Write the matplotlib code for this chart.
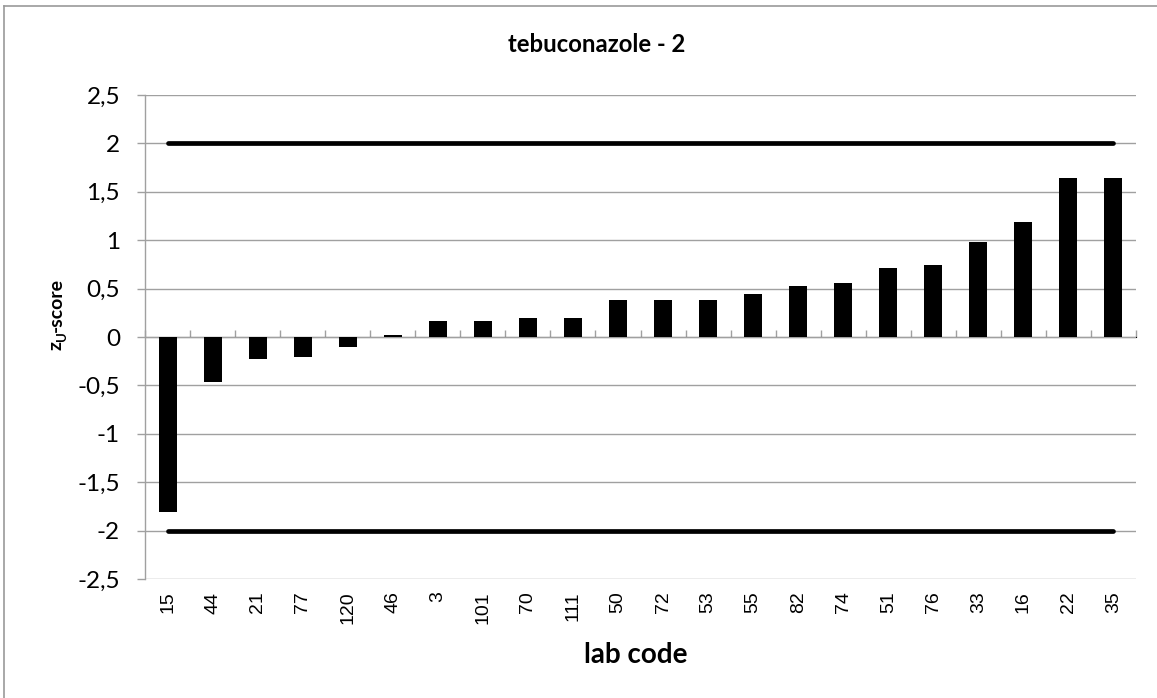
import matplotlib
matplotlib.use("Agg")
import matplotlib.pyplot as plt
import matplotlib.transforms as mtransforms
import numpy as np

# ---- data ----
lab_codes = ["15", "44", "21", "77", "120", "46", "3", "101", "70", "111", "50",
             "72", "53", "55", "82", "74", "51", "76", "33", "16", "22", "35"]
z_scores = [-1.81, -0.47, -0.23, -0.21, -0.10, 0.02, 0.17, 0.17, 0.20, 0.20, 0.38,
            0.38, 0.38, 0.44, 0.53, 0.56, 0.71, 0.74, 0.98, 1.19, 1.64, 1.64]
upper_limit = 2
lower_limit = -2
y_ticks = [-2.5, -2, -1.5, -1, -0.5, 0, 0.5, 1, 1.5, 2, 2.5]
y_tick_labels = ["-2,5", "-2", "-1,5", "-1", "-0,5", "0", "0,5", "1", "1,5", "2", "2,5"]
title = "tebuconazole - 2"
x_label = "lab code"
y_label_parts = ["z", "U", "-score"]

W, H = 1157, 698
fig = plt.figure(figsize=(W / 100, H / 100), dpi=100)
ax = fig.add_axes([145 / W, 1 - 579 / H, (1136 - 145) / W, (579 - 95) / H])

x = np.arange(len(lab_codes))
grid_c = '#A0A0A0'

ax.set_xlim(-0.5, len(lab_codes) - 0.5)
ax.set_ylim(y_ticks[0], y_ticks[-1])
ax.set_yticks(y_ticks)
ax.set_yticklabels(y_tick_labels, fontfamily='Lato', fontsize=17.5)
ax.yaxis.grid(True, color=grid_c, linewidth=1.0)
ax.set_axisbelow(True)

ax.bar(x, z_scores, width=0.4, color='black', zorder=3)
ax.plot([x[0], x[-1]], [upper_limit, upper_limit], color='black', lw=3.4,
        solid_capstyle='round', zorder=4)
ax.plot([x[0], x[-1]], [lower_limit, lower_limit], color='black', lw=3.4,
        solid_capstyle='round', zorder=4)

# main x axis: labels only at the bottom
ax.set_xticks(x)
ax.set_xticklabels(lab_codes, rotation=90, fontfamily='Liberation Sans', fontsize=14)
ax.tick_params(axis='x', length=0, pad=9)
ax.tick_params(axis='y', length=6, color=grid_c, pad=12, width=1.0)

for s in ['top', 'right', 'bottom']:
    ax.spines[s].set_visible(False)
ax.spines['left'].set_color(grid_c)
ax.spines['left'].set_linewidth(1.0)

# category axis line at zero with boundary ticks
sec = ax.secondary_xaxis(0.5)
sec.set_xticks(np.arange(len(lab_codes) + 1) - 0.5)
sec.set_xticklabels([])
sec.tick_params(axis='x', direction='out', length=5, color=grid_c, width=1.0)
sec.spines['bottom'].set_color(grid_c)
sec.spines['bottom'].set_linewidth(1.0)

fig.text(597 / W, 1 - 45 / H, title, ha='center', va='center',
         fontfamily='Lato', fontweight='bold', fontsize=17.2)
fig.text(636 / W, 1 - 655 / H, x_label, ha='center', va='center',
         fontfamily='Lato', fontweight='bold', fontsize=20)

# y label built from pieces: z, subscript U, -score (rotated 90)
renderer = fig.canvas.get_renderer()
sizes = [14, 9.5, 14]
shifts = [0, 4, 0]  # baseline shift in px (towards the right = down in text frame)
pieces = []
for txt, fs in zip(y_label_parts, sizes):
    t = fig.text(0, 0, txt, rotation=90, rotation_mode='anchor', ha='left',
                 va='baseline', fontfamily='Lato', fontweight='bold', fontsize=fs)
    pieces.append(t)
lengths = [p.get_window_extent(renderer).height for p in pieces]
total = sum(lengths)
center_y = H - 314
baseline_x = 62
y_start = center_y - total / 2
for p, L, sh in zip(pieces, lengths, shifts):
    p.set_transform(mtransforms.IdentityTransform())
    p.set_position((baseline_x + sh, y_start))
    y_start += L

# chart area border (top and left visible)
fig.add_artist(plt.Line2D([4 / W, 1], [1 - 6 / H, 1 - 6 / H], color='#9A9A9A', lw=1.2))
fig.add_artist(plt.Line2D([4 / W, 4 / W], [0, 1 - 6 / H], color='#9A9A9A', lw=1.2))

fig.savefig('out.png', dpi=100)
